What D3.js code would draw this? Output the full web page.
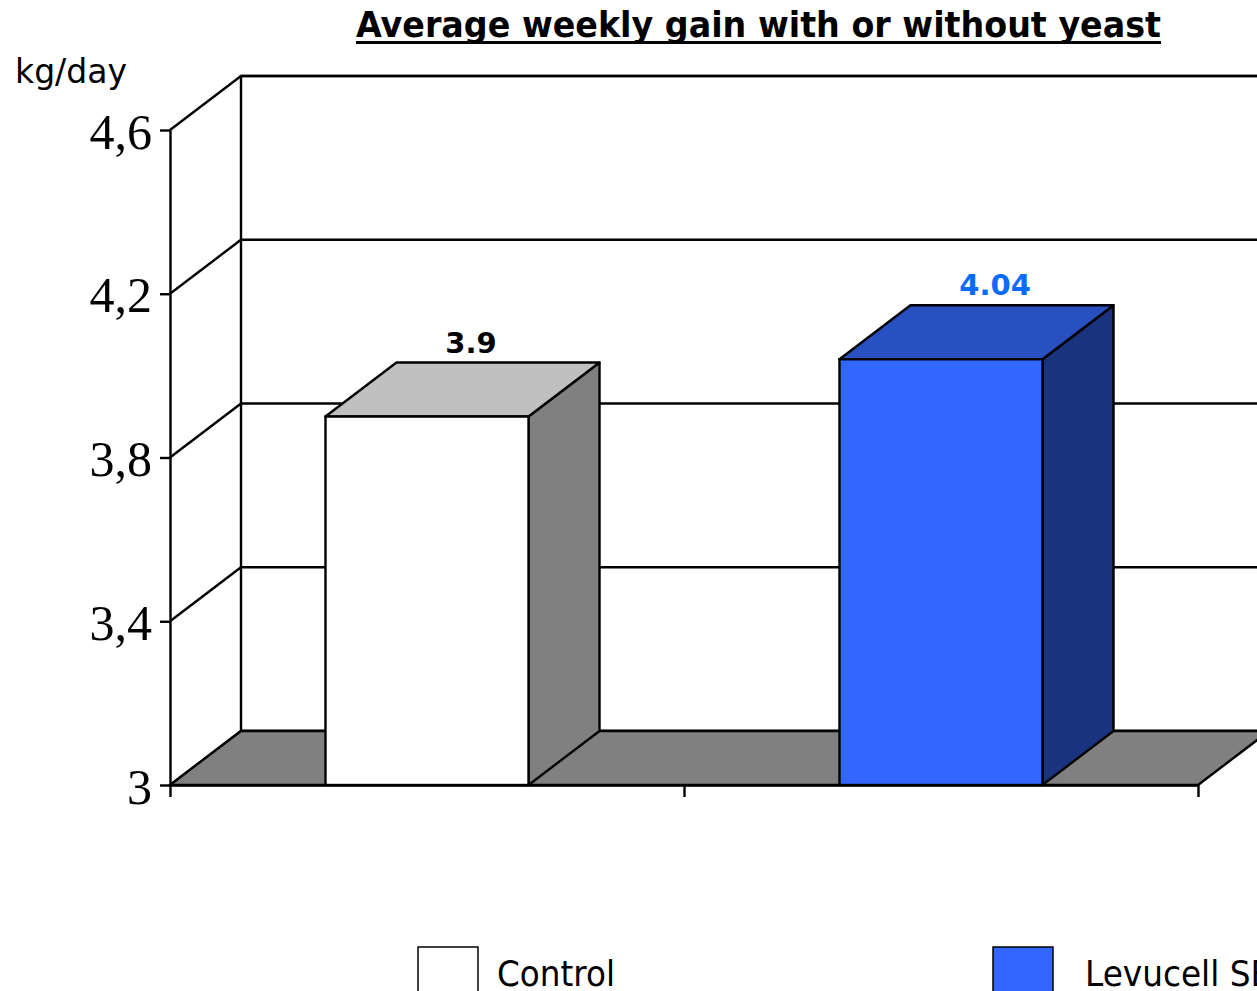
<!DOCTYPE html>
<html>
<head>
<meta charset="utf-8">
<script src="https://cdnjs.cloudflare.com/ajax/libs/d3/7.8.5/d3.min.js"></script>
<style>
  html, body { margin: 0; padding: 0; background: #fff; overflow: hidden; }
  svg { display: block; }
</style>
</head>
<body>
<div id="chart"></div>
<script>
// data
var categories = ["Control", "Levucell SB"];
var values = [3.9, 4.04];
var valueLabels = ["3.9", "4.04"];
var yTicks = [3, 3.4, 3.8, 4.2, 4.6];
var yTickLabels = ["3", "3,4", "3,8", "4,2", "4,6"];

var colors = {
    front: ["#ffffff", "#3366ff"],
    top: ["#c0c0c0", "#2850c0"],
    side: ["#808080", "#1a337f"],
    label: ["#000000", "#0a6cff"]
};

var width = 1257,
    height = 991,
    depthX = 71,
    depthY = -54,
    left = 170,
    right = 1198,
    barRatio = 0.395,
    sw = 2.4;

var svg = d3.select('#chart').append('svg')
    .attr('width', width)
    .attr('height', height);

var y = d3.scaleLinear().domain([3, 4.6]).range([785, 130]);
var x = d3.scaleBand().domain(categories).range([left, right]).padding(0);
var xTickScale = d3.scaleLinear().domain([0, categories.length]).range([left, right]);

var y0 = y(3), yTop = y(4.6);

// back wall
svg.append('rect')
    .attr('x', left + depthX).attr('y', yTop + depthY)
    .attr('width', right - left + 10).attr('height', y0 - yTop)
    .attr('fill', '#fff').attr('stroke', '#000').attr('stroke-width', sw);

// gridlines on back wall and left wall
yTicks.forEach(function(v) {
    svg.append('line')
        .attr('x1', left + depthX).attr('x2', right + depthX + 10)
        .attr('y1', y(v) + depthY).attr('y2', y(v) + depthY)
        .attr('stroke', '#000').attr('stroke-width', sw);
    svg.append('line')
        .attr('x1', left).attr('y1', y(v))
        .attr('x2', left + depthX).attr('y2', y(v) + depthY)
        .attr('stroke', '#000').attr('stroke-width', sw);
});

// floor
svg.append('polygon')
    .attr('points', [[left, y0], [right, y0], [right + depthX, y0 + depthY], [left + depthX, y0 + depthY]].join(' '))
    .attr('fill', '#808080').attr('stroke', '#000').attr('stroke-width', sw);

// axes
var yAxis = d3.axisLeft(y)
    .tickValues(yTicks)
    .tickFormat(function(d, i) { return yTickLabels[i]; })
    .tickSize(10).tickSizeOuter(0).tickPadding(8);

var gy = svg.append('g').attr('transform', 'translate(' + left + ',0)').call(yAxis);
gy.selectAll('line, path').attr('stroke', '#000').attr('stroke-width', sw);
gy.selectAll('text')
    .attr('font-family', '"Liberation Serif", "Times New Roman", serif')
    .attr('font-size', 50).attr('fill', '#000').attr('dy', '0.36em');

var xAxis = d3.axisBottom(xTickScale)
    .tickValues(d3.range(categories.length + 1))
    .tickFormat('').tickSize(12).tickSizeOuter(0);
var gx = svg.append('g').attr('transform', 'translate(0,' + y0 + ')').call(xAxis);
gx.selectAll('line, path').attr('stroke', '#000').attr('stroke-width', sw);

// bars
var bw = x.bandwidth() * barRatio;
var bars = svg.selectAll('.bar')
    .data(categories.map(function(c, i) { return { cat: c, value: values[i], i: i }; }))
    .enter().append('g').attr('class', 'bar');

function bx(d) { return x(d.cat) + (x.bandwidth() - bw) / 2; }

bars.append('polygon')
    .attr('points', function(d) {
        var x0 = bx(d) + bw, t = y(d.value);
        return [[x0, t], [x0 + depthX, t + depthY], [x0 + depthX, y0 + depthY], [x0, y0]].join(' ');
    })
    .attr('fill', function(d) { return colors.side[d.i]; })
    .attr('stroke', '#000').attr('stroke-width', sw).attr('stroke-linejoin', 'round');

bars.append('polygon')
    .attr('points', function(d) {
        var x0 = bx(d), t = y(d.value);
        return [[x0, t], [x0 + depthX, t + depthY], [x0 + bw + depthX, t + depthY], [x0 + bw, t]].join(' ');
    })
    .attr('fill', function(d) { return colors.top[d.i]; })
    .attr('stroke', '#000').attr('stroke-width', sw).attr('stroke-linejoin', 'round');

bars.append('rect')
    .attr('x', bx).attr('y', function(d) { return y(d.value); })
    .attr('width', bw).attr('height', function(d) { return y0 - y(d.value); })
    .attr('fill', function(d) { return colors.front[d.i]; })
    .attr('stroke', '#000').attr('stroke-width', sw);

bars.append('text')
    .attr('x', function(d) { return bx(d) + bw * 0.59; })
    .attr('y', function(d) { return y(d.value) + depthY - 10; })
    .attr('font-family', '"DejaVu Sans", Verdana, sans-serif')
    .attr('font-weight', 'bold').attr('font-size', 29)
    .attr('fill', function(d) { return colors.label[d.i]; })
    .text(function(d) { return valueLabels[d.i]; });

// title
svg.append('text')
    .attr('x', 356).attr('y', 37)
    .attr('font-family', '"DejaVu Sans", Verdana, sans-serif')
    .attr('font-weight', 'bold').attr('font-size', 36)
    .attr('textLength', 805).attr('lengthAdjust', 'spacingAndGlyphs')
    .text('Average weekly gain with or without yeast');
svg.append('line')
    .attr('x1', 356).attr('x2', 1161).attr('y1', 42.5).attr('y2', 42.5)
    .attr('stroke', '#000').attr('stroke-width', 3);

// unit
svg.append('text')
    .attr('x', 15).attr('y', 83)
    .attr('font-family', '"DejaVu Sans", Verdana, sans-serif')
    .attr('font-size', 33)
    .attr('textLength', 112).attr('lengthAdjust', 'spacingAndGlyphs')
    .text('kg/day');

// legend
var legendX = [418, 993];
var legend = svg.selectAll('.legend')
    .data(categories).enter().append('g')
    .attr('transform', function(d, i) { return 'translate(' + legendX[i] + ',947)'; });
legend.append('rect')
    .attr('width', 60).attr('height', 60)
    .attr('fill', function(d, i) { return colors.front[i]; })
    .attr('stroke', '#000').attr('stroke-width', 1.5);
legend.append('text')
    .attr('x', function(d, i) { return i === 0 ? 79 : 92; })
    .attr('y', 39)
    .attr('font-family', '"DejaVu Sans", Verdana, sans-serif')
    .attr('font-size', 36)
    .attr('textLength', function(d, i) { return i === 0 ? 118 : 188; })
    .attr('lengthAdjust', 'spacingAndGlyphs')
    .text(function(d) { return d; });
</script>
</body>
</html>
